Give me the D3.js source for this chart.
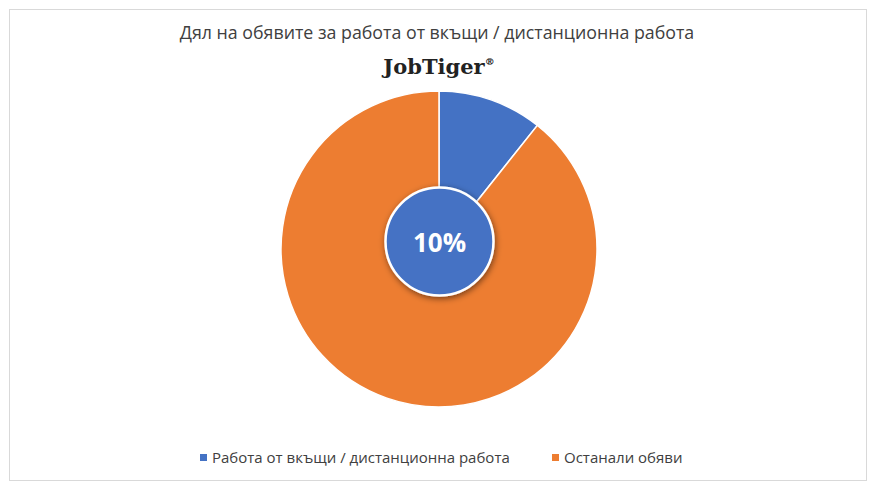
<!DOCTYPE html><html><head><meta charset="utf-8"><script src="https://cdn.jsdelivr.net/npm/d3@7"></script>
<style>body{margin:0;background:#fff}</style></head><body><svg id="c" width="878" height="493"></svg>
<script>
const categories=["Работа от вкъщи / дистанционна работа","Останали обяви"];
const values=[10.7,89.3];
const colors=["#4472C4","#ED7D31"];
const centerLabel="10%";
const svg=d3.select("#c");
const defs=svg.append("defs");
const f=defs.append("filter").attr("id","sh").attr("x","-30%").attr("y","-30%").attr("width","160%").attr("height","160%");
f.append("feDropShadow").attr("dx",1).attr("dy",2).attr("stdDeviation",3).attr("flood-color","#000").attr("flood-opacity",0.5);
svg.append("rect").attr("x",9.5).attr("y",9.5).attr("width",857).attr("height",471).attr("fill","#fff").attr("stroke","#d9d9d9");
svg.append("text").attr("x",437).attr("y",39).attr("text-anchor","middle").attr("font-family","Open Sans, sans-serif").attr("font-size",17.8).attr("fill","#404040").text("Дял на обявите за работа от вкъщи / дистанционна работа");
const lg=svg.append("text").attr("x",439).attr("y",74).attr("text-anchor","middle").attr("font-family","DejaVu Serif, serif").attr("font-weight","bold").attr("font-size",21).attr("fill","#222");
lg.append("tspan").text("JobTiger");lg.append("tspan").attr("font-size",10).attr("dy",-9).text("®");
const pie=d3.pie().sort(null).value(d=>d)(values);
const arc=d3.arc().innerRadius(0).outerRadius(158);
const g=svg.append("g").attr("transform","translate(439,249)");
g.selectAll("path").data(pie).join("path").attr("d",arc).attr("fill",(d,i)=>colors[i]).attr("stroke","#fff").attr("stroke-width",1.5);
svg.append("circle").attr("cx",439.5).attr("cy",241.5).attr("r",54).attr("fill",colors[0]).attr("stroke","#fff").attr("stroke-width",2.5).attr("filter","url(#sh)");
svg.append("text").attr("x",439.5).attr("y",252).attr("text-anchor","middle").attr("font-family","Open Sans, sans-serif").attr("font-weight","bold").attr("font-size",26).attr("fill","#fff").text(centerLabel);
const L=[[200,categories[0]],[552,categories[1]]];
L.forEach((l,i)=>{svg.append("rect").attr("x",l[0]).attr("y",454).attr("width",7).attr("height",7).attr("fill",colors[i]);
svg.append("text").attr("x",l[0]+12).attr("y",463).attr("font-family","Open Sans, sans-serif").attr("font-size",15).attr("fill","#404040").text(l[1]);});
</script></body></html>
